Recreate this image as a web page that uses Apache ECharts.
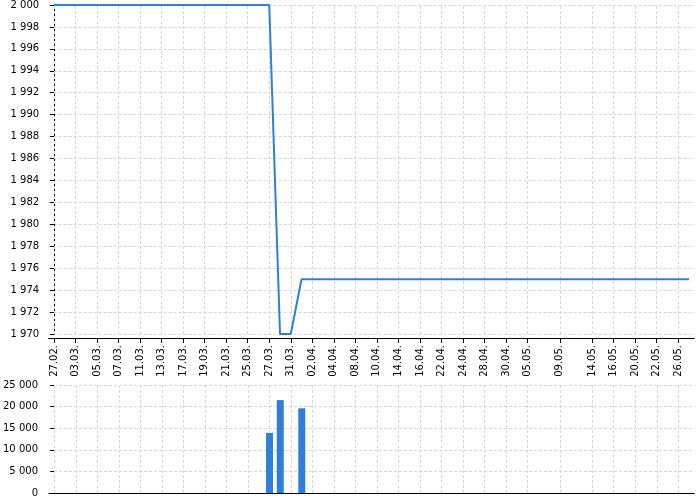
<!DOCTYPE html>
<html>
<head>
<meta charset="utf-8">
<script src="https://cdn.jsdelivr.net/npm/echarts@6/dist/echarts.min.js"></script>
<style>html,body{margin:0;padding:0;background:#fff}#c{width:700px;height:500px}</style>
</head>
<body>
<div id="c"></div>
<script>
const dates = ['27.02.','28.02.','03.03.','04.03.','05.03.','06.03.','07.03.','10.03.','11.03.','12.03.',
  '13.03.','14.03.','17.03.','18.03.','19.03.','20.03.','21.03.','24.03.','25.03.','26.03.',
  '27.03.','28.03.','31.03.','01.04.','02.04.','03.04.','04.04.','07.04.','08.04.','09.04.',
  '10.04.','11.04.','14.04.','15.04.','16.04.','17.04.','22.04.','23.04.','24.04.','25.04.',
  '28.04.','29.04.','30.04.','02.05.','05.05.','06.05.','07.05.','09.05.','12.05.','13.05.',
  '14.05.','15.05.','16.05.','19.05.','20.05.','21.05.','22.05.','23.05.','26.05.','27.05.'];
const prices = [2000,2000,2000,2000,2000,2000,2000,2000,2000,2000,
  2000,2000,2000,2000,2000,2000,2000,2000,2000,2000,
  2000,1970,1970,1975,1975,1975,1975,1975,1975,1975,
  1975,1975,1975,1975,1975,1975,1975,1975,1975,1975,
  1975,1975,1975,1975,1975,1975,1975,1975,1975,1975,
  1975,1975,1975,1975,1975,1975,1975,1975,1975,1975];
const volumes = [0,0,0,0,0,0,0,0,0,0,
  0,0,0,0,0,0,0,0,0,0,
  13900,21500,0,19600,0,0,0,0,0,0,
  0,0,0,0,0,0,0,0,0,0,
  0,0,0,0,0,0,0,0,0,0,
  0,0,0,0,0,0,0,0,0,0];
const tickLabels = ['27.02.','03.03.','05.03.','07.03.','11.03.','13.03.','17.03.','19.03.','21.03.','25.03.',
  '27.03.','31.03.','02.04.','04.04.','08.04.','10.04.','14.04.','16.04.','22.04.','24.04.',
  '28.04.','30.04.','05.05.','09.05.','14.05.','16.05.','20.05.','22.05.','26.05.'];
const priceTicks = {min: 1970, max: 2000, interval: 2};
const volumeTicks = {min: 0, max: 25000, interval: 5000};

const tickIdx = tickLabels.map(l => dates.indexOf(l));
const fmtNum = v => String(v).replace(/\B(?=(\d{3})+(?!\d))/g, ' ');
const FONT = 'DejaVu Sans';
const BLUE = '#2f7ed8';
const GRID_COLOR = '#d6d6d6';
const gridLine = {show: true, lineStyle: {color: GRID_COLOR, type: [3, 2], width: 1}};
const TOP_H = 329, BOT_H = 108;

// hidden axes whose inside ticks serve as vertical grid lines
function gridTickAxis(gridIndex, len) {
  return {
    type: 'value', gridIndex, min: -0.5, max: 59.5, position: 'bottom',
    axisLine: {show: false, onZero: false},
    axisTick: {show: true, inside: true, length: len, customValues: tickIdx,
      lineStyle: {color: GRID_COLOR, type: [3, 2], width: 1}},
    axisLabel: {show: false, customValues: tickIdx},
    splitLine: {show: false}
  };
}

const chart = echarts.init(document.getElementById('c'), null, {renderer: 'canvas'});
chart.setOption({
  animation: false,
  grid: [
    {left: 48.6, right: 5.6, top: 5, height: TOP_H},
    {left: 48.6, right: 5.6, top: 385, height: BOT_H}
  ],
  xAxis: [
    {
      type: 'value', gridIndex: 0, min: -0.5, max: 59.5, offset: 4,
      axisLine: {show: true, onZero: false, lineStyle: {color: '#000', width: 1}},
      axisTick: {show: true, length: 5, customValues: tickIdx, lineStyle: {color: '#000'}},
      axisLabel: {customValues: tickIdx, rotate: 90, margin: 7, fontFamily: FONT, fontSize: 10, color: '#000',
        formatter: v => dates[Math.round(v)] || ''},
      splitLine: {show: false}
    },
    {
      type: 'value', gridIndex: 1, min: -0.5, max: 59.5,
      axisLine: {show: true, onZero: false, lineStyle: {color: '#000', width: 1}},
      axisTick: {show: false, customValues: tickIdx},
      axisLabel: {show: false, customValues: tickIdx},
      splitLine: {show: false}
    },
    gridTickAxis(0, TOP_H),
    gridTickAxis(1, BOT_H)
  ],
  yAxis: [
    {
      type: 'value', gridIndex: 0, min: priceTicks.min, max: priceTicks.max, interval: priceTicks.interval, offset: 4.4,
      axisLine: {show: true, lineStyle: {color: '#000', width: 1}},
      axisTick: {show: true, length: 4, lineStyle: {color: '#000'}},
      axisLabel: {margin: 5, fontFamily: FONT, fontSize: 10, color: '#000', formatter: fmtNum},
      splitLine: gridLine
    },
    {
      type: 'value', gridIndex: 1, min: volumeTicks.min, max: volumeTicks.max, interval: volumeTicks.interval, offset: 5,
      axisLine: {show: false},
      axisTick: {show: true, length: 4, lineStyle: {color: '#000'}},
      axisLabel: {margin: 6, fontFamily: FONT, fontSize: 10, color: '#000', formatter: fmtNum},
      splitLine: gridLine
    }
  ],
  series: [
    {
      type: 'line', xAxisIndex: 0, yAxisIndex: 0, clip: false, z: 5,
      data: prices.map((p, i) => [i, p]),
      showSymbol: false, symbol: 'none',
      lineStyle: {color: BLUE, width: 2},
      itemStyle: {color: BLUE}
    },
    {
      type: 'bar', xAxisIndex: 1, yAxisIndex: 1, barWidth: 7, z: 5,
      data: volumes.map((v, i) => [i, v]),
      itemStyle: {color: BLUE}
    }
  ]
});
</script>
</body>
</html>
